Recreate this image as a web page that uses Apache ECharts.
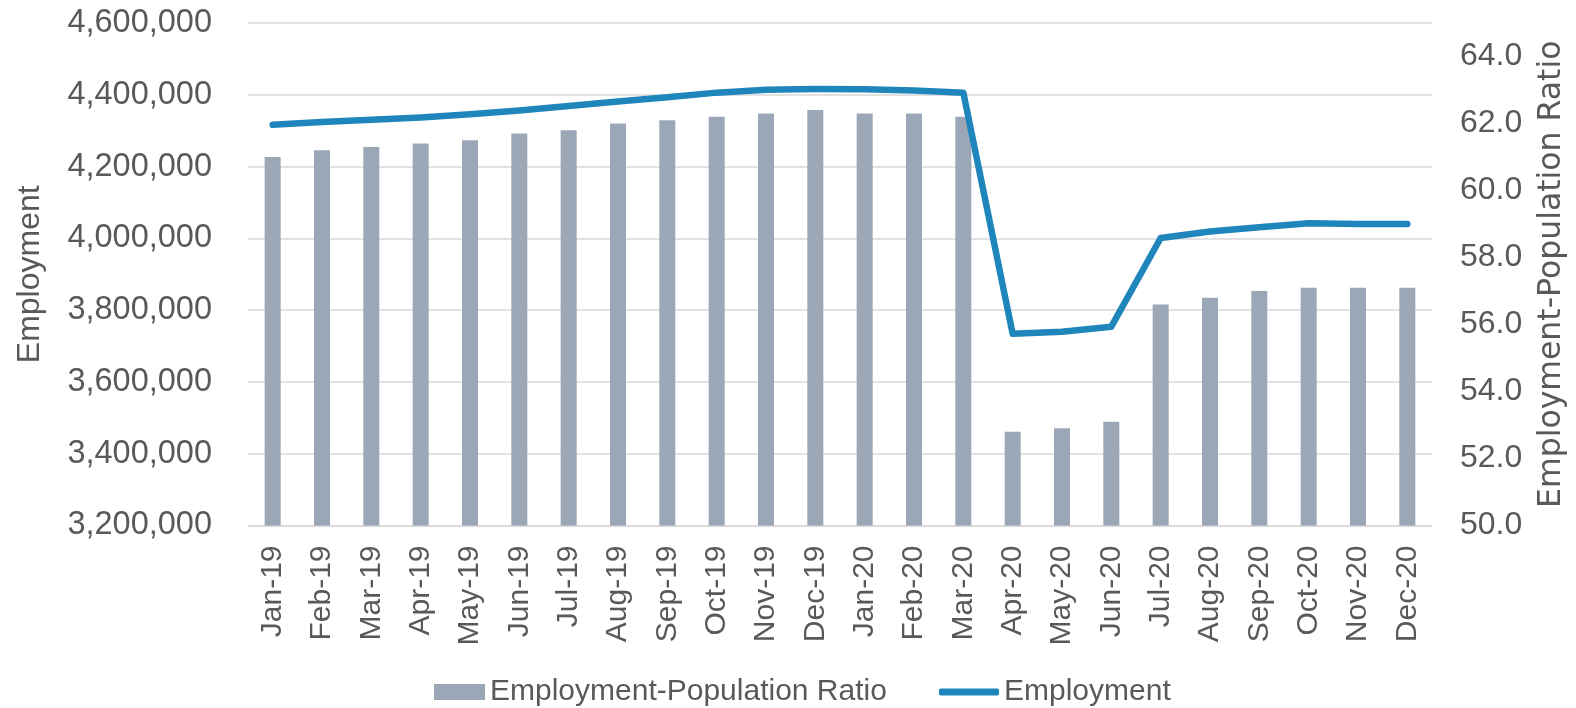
<!DOCTYPE html>
<html>
<head>
<meta charset="utf-8">
<script src="https://cdn.jsdelivr.net/npm/echarts@6/dist/echarts.min.js"></script>
<style>
  html, body { margin: 0; padding: 0; background: #ffffff; }
  #chart { width: 1576px; height: 708px; }
</style>
</head>
<body>
<div id="chart"></div>
<script>
// Monthly categories, Jan 2019 – Dec 2020
const months = ['Jan-19','Feb-19','Mar-19','Apr-19','May-19','Jun-19','Jul-19','Aug-19','Sep-19','Oct-19','Nov-19','Dec-19',
                'Jan-20','Feb-20','Mar-20','Apr-20','May-20','Jun-20','Jul-20','Aug-20','Sep-20','Oct-20','Nov-20','Dec-20'];

// Employment-population ratio (%), right axis
const epRatio = [61.0, 61.2, 61.3, 61.4, 61.5, 61.7, 61.8, 62.0, 62.1, 62.2, 62.3, 62.4,
                 62.3, 62.3, 62.2, 52.8, 52.9, 53.1, 56.6, 56.8, 57.0, 57.1, 57.1, 57.1];

// Total employment, left axis
const employment = [4316500, 4324000, 4330500, 4337000, 4346000, 4356000, 4369000, 4381000, 4393000, 4406000, 4414000, 4416000,
                    4415500, 4412000, 4406000, 3734000, 3740000, 3754000, 4001000, 4019000, 4031000, 4042000, 4040000, 4040000];

// Axis ranges
const leftAxisRange = { min: 3200000, max: 4600000, interval: 200000 };
const rightAxisRange = { min: 50, max: 65, interval: 2 };

const FONT = '"Liberation Sans", Arial, sans-serif';
const WIDE_FONT = '"DejaVu Sans", Verdana, sans-serif';
const TEXT = '#595959';
const GRID = '#D9D9D9';
const BAR = '#9BA7B6';
const LINE = '#1F86BB';

const chart = echarts.init(document.getElementById('chart'), null, { renderer: 'canvas' });

chart.setOption({
  animation: false,
  backgroundColor: '#ffffff',
  textStyle: { fontFamily: FONT },
  grid: { left: 248, right: 144, top: 23, bottom: 182.5, containLabel: false },
  legend: [
    {
      data: ['Employment-Population Ratio'],
      left: 429, top: 672,
      itemWidth: 51, itemHeight: 16,
      icon: 'rect',
      textStyle: { color: TEXT, fontSize: 30, fontFamily: FONT },
      selectedMode: false
    },
    {
      data: ['Employment'],
      left: 934, top: 672,
      itemWidth: 60, itemHeight: 7,
      icon: 'roundRect',
      textStyle: { color: TEXT, fontSize: 30, fontFamily: FONT },
      selectedMode: false
    }
  ],
  xAxis: {
    type: 'category',
    data: months,
    boundaryGap: true,
    axisLine: { show: true, lineStyle: { color: GRID, width: 1.5 } },
    axisTick: { show: false },
    axisLabel: {
      rotate: 90, margin: 20, interval: 0,
      color: TEXT, fontSize: 30, fontFamily: FONT
    },
    splitLine: { show: false }
  },
  yAxis: [
    {
      type: 'value',
      position: 'left',
      min: leftAxisRange.min, max: leftAxisRange.max, interval: leftAxisRange.interval,
      name: 'Employment',
      nameLocation: 'middle',
      nameGap: 202,
      nameRotate: 90,
      nameTextStyle: { color: TEXT, fontSize: 32, fontFamily: FONT },
      axisLine: { show: false },
      axisTick: { show: false },
      axisLabel: {
        margin: 36, color: TEXT, fontSize: 32.5, fontFamily: FONT,
        formatter: v => v.toLocaleString('en-US')
      },
      splitLine: { show: true, lineStyle: { color: GRID, width: 1.5 } }
    },
    {
      type: 'value',
      position: 'right',
      min: rightAxisRange.min, max: rightAxisRange.max, interval: rightAxisRange.interval,
      name: 'Employment-Population Ratio',
      nameLocation: 'middle',
      nameGap: 104,
      nameRotate: 90,
      nameTextStyle: { color: TEXT, fontSize: 31.5, fontFamily: WIDE_FONT },
      axisLine: { show: false },
      axisTick: { show: false },
      axisLabel: {
        margin: 28, color: TEXT, fontSize: 32, fontFamily: FONT,
        showMaxLabel: false,
        formatter: v => v.toFixed(1)
      },
      splitLine: { show: false }
    }
  ],
  series: [
    {
      name: 'Employment-Population Ratio',
      type: 'bar',
      yAxisIndex: 1,
      data: epRatio,
      barWidth: 16,
      itemStyle: { color: BAR },
      z: 2
    },
    {
      name: 'Employment',
      type: 'line',
      yAxisIndex: 0,
      data: employment,
      symbol: 'none',
      smooth: false,
      lineStyle: { color: LINE, width: 6.5, cap: 'round', join: 'round' },
      itemStyle: { color: LINE },
      z: 3
    }
  ]
});
</script>
</body>
</html>
